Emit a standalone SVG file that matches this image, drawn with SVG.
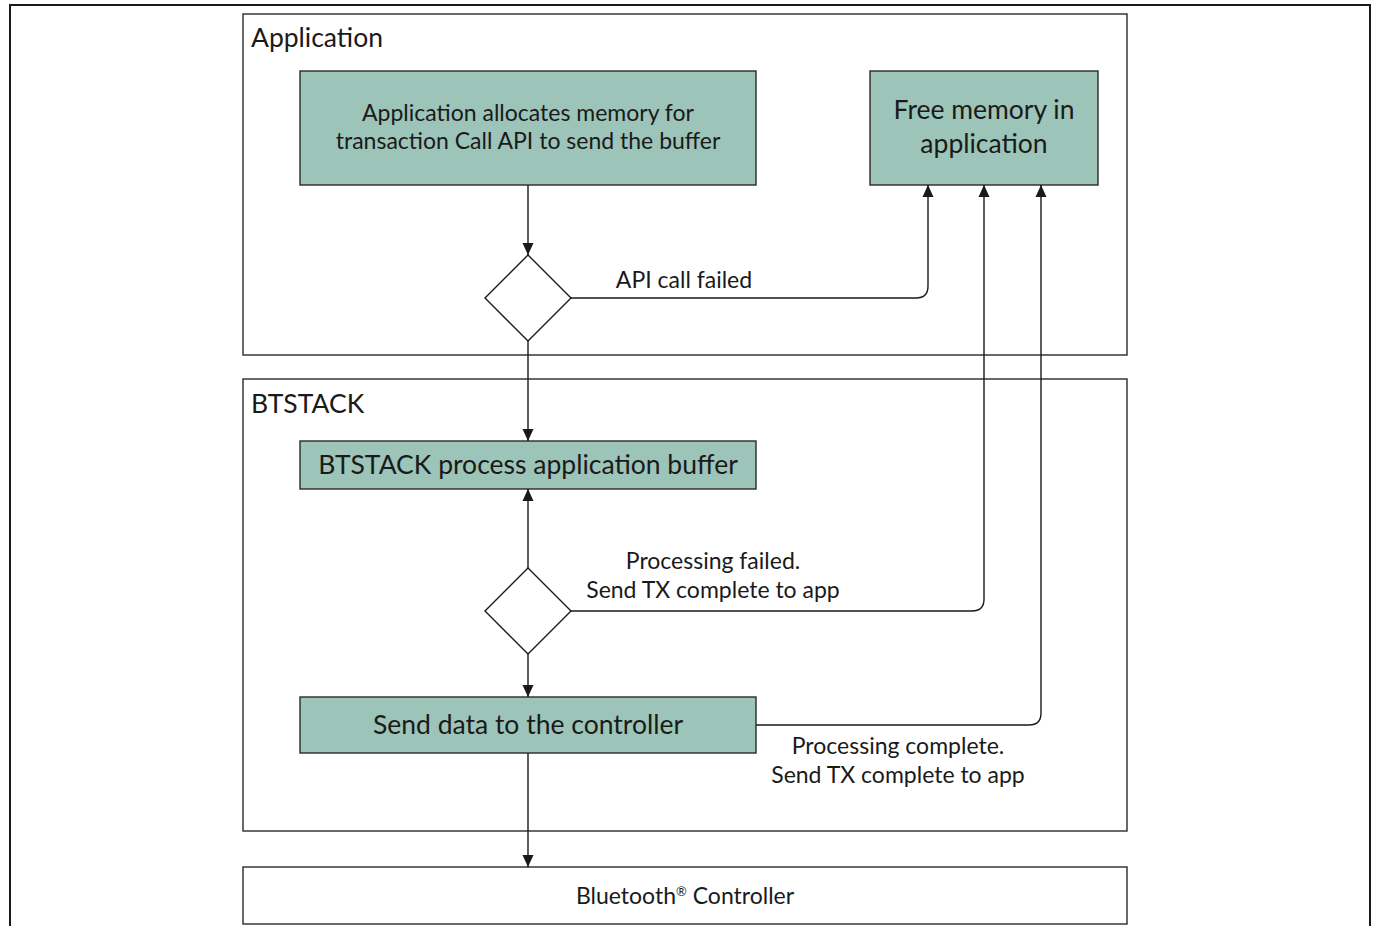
<svg xmlns="http://www.w3.org/2000/svg" width="1376" height="926" viewBox="0 0 1376 926">
<style>
text{font-family:Lato,"Open Sans","Liberation Sans",sans-serif;fill:#1a1a1a;}
.lane{fill:#fff;stroke:#2a2a2a;stroke-width:1.4;}
.proc{fill:#9cc4b8;stroke:#2a2a2a;stroke-width:1.4;}
.dec{fill:#fff;stroke:#1a1a1a;stroke-width:1.4;}
.conn{fill:none;stroke:#1a1a1a;stroke-width:1.4;}
.c{text-anchor:middle;}
.s{font-size:23px;}
.l{font-size:26.5px;}
</style>
<defs>
<marker id="arr" viewBox="0 0 12 12" refX="12" refY="6" markerWidth="12" markerHeight="12" markerUnits="userSpaceOnUse" orient="auto">
<path d="M0,0.5 L12,6 L0,11.5 Z" fill="#1a1a1a"/>
</marker>
</defs>
<rect x="0" y="0" width="1376" height="926" fill="#fff"/>
<rect x="10" y="5" width="1360" height="930" fill="none" stroke="#1a1a1a" stroke-width="2"/>
<g id="lane-application">
<rect class="lane" x="243" y="14" width="884" height="341"/>
<text class="l" x="251" y="47">Application</text>
</g>
<g id="lane-btstack">
<rect class="lane" x="243" y="379" width="884" height="452"/>
<text class="l" x="251" y="413">BTSTACK</text>
</g>
<g id="node-controller">
<rect class="lane" x="243" y="867" width="884" height="57"/>
<text class="c s" x="685" y="904">Bluetooth<tspan font-size="13" dy="-8">®</tspan><tspan dy="8"> Controller</tspan></text>
</g>
<g id="node-alloc">
<rect class="proc" x="300" y="71" width="456" height="114"/>
<text class="c s" x="528" y="121">Application allocates memory for</text>
<text class="c s" x="528" y="149">transaction Call API to send the buffer</text>
</g>
<g id="node-free">
<rect class="proc" x="870" y="71" width="228" height="114"/>
<text class="c l" x="984" y="119">Free memory in</text>
<text class="c l" x="984" y="153">application</text>
</g>
<g id="node-decision1">
<path class="dec" d="M528,255 L571,298 L528,341 L485,298 Z"/>
</g>
<g id="node-process">
<rect class="proc" x="300" y="441" width="456" height="48"/>
<text class="c l" x="528" y="474">BTSTACK process application buffer</text>
</g>
<g id="node-decision2">
<path class="dec" d="M528,568 L571,611 L528,654 L485,611 Z"/>
</g>
<g id="node-send">
<rect class="proc" x="300" y="697" width="456" height="56"/>
<text class="c l" x="528" y="734">Send data to the controller</text>
</g>
<g id="connectors">
<path class="conn" d="M528,185 L528,255" marker-end="url(#arr)"/>
<path class="conn" d="M571,298 L916,298 Q928,298 928,286 L928,185" marker-end="url(#arr)"/>
<path class="conn" d="M528,341 L528,441" marker-end="url(#arr)"/>
<path class="conn" d="M528,568 L528,489" marker-end="url(#arr)"/>
<path class="conn" d="M571,611 L972,611 Q984,611 984,599 L984,185" marker-end="url(#arr)"/>
<path class="conn" d="M528,654 L528,697" marker-end="url(#arr)"/>
<path class="conn" d="M756,725 L1029,725 Q1041,725 1041,713 L1041,185" marker-end="url(#arr)"/>
<path class="conn" d="M528,753 L528,867" marker-end="url(#arr)"/>
<text class="c s" x="684" y="288">API call failed</text>
<text class="c s" x="713" y="569">Processing failed.</text>
<text class="c s" x="713" y="598">Send TX complete to app</text>
<text class="c s" x="898" y="754">Processing complete.</text>
<text class="c s" x="898" y="783">Send TX complete to app</text>
</g>
</svg>
